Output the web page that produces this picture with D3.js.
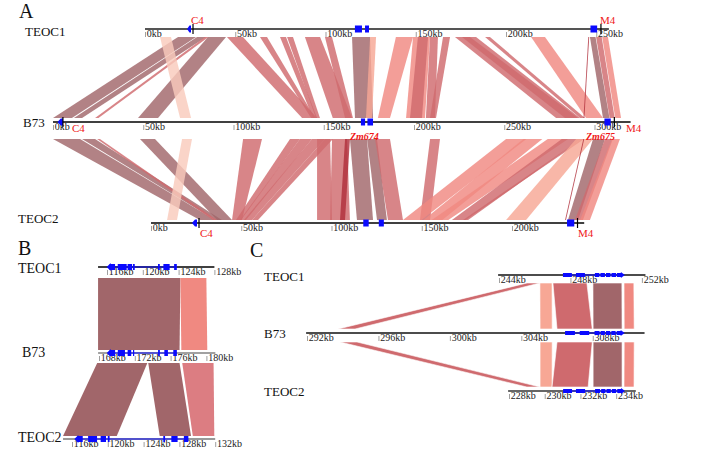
<!DOCTYPE html>
<html><head><meta charset="utf-8">
<script src="https://cdn.jsdelivr.net/npm/d3@7"></script>
<style>body{margin:0;background:#fff}svg{display:block}</style>
</head><body><svg id="c" width="726" height="459"></svg>
<script>
// ================= DATA =================
const trackNames = ["TEOC1", "B73", "TEOC2"];
const panelLetters = ["A", "B", "C"];

// ---- Panel A (kb) ----
const aLengths = [257, 320, 240];
const aTicksTEOC1 = [0, 50, 100, 150, 200, 250];
const aTicksB73 = [0, 50, 100, 150, 200, 250, 300];
const aTicksTEOC2 = [0, 50, 100, 150, 200];
// [upperStart, upperEnd, lowerStart, lowerEnd, colourIndex]
const aRibbonsTop = [
  [18.3, 28.3, 0, 10.5, 0], [28.8, 33.8, 11.6, 16.1, 0], [33.2, 35.2, 23.3, 25.2, 1],
  [34.9, 44.9, 47.1, 58.2, 0], [8.3, 14.4, 70.4, 76.5, 4],
  [45.4, 54.3, 138, 146.3, 1], [63.7, 67.6, 143, 145.2, 1], [74.8, 78.1, 144, 146.3, 1],
  [78.7, 82, 145.7, 147.9, 1], [88.6, 97, 155, 165.7, 1], [99.7, 103.6, 161.8, 166.2, 1],
  [114.7, 124.7, 167.3, 177.3, 0], [124.7, 128, 173.4, 176.7, 3],
  [139, 148.5, 180, 186.7, 2], [148.5, 157.9, 195.6, 206.1, 2], [151.2, 156.8, 197.8, 204.4, 1],
  [157.9, 162.3, 206.6, 211.6, 1], [165.1, 169, 208.9, 212.2, 1],
  [171.7, 183.4, 278.7, 292, 1], [175.6, 180, 283.7, 290.9, 1], [188.4, 191.1, 292, 294.7, 1],
  [213.9, 221.6, 295.3, 304.7, 2], [245.6, 246.1, 293.9, 294.4, 5],
  [246.5, 249.6, 304.7, 308.3, 0], [249.9, 253, 308.4, 311.2, 1], [253.3, 256.5, 311.5, 314.7, 2]
];
const aRibbonsBottom = [
  [0, 15, 27.1, 35.5, 0], [16.1, 23.3, 35.5, 39.3, 0], [24.4, 26, 34.3, 36.6, 1],
  [48.2, 56.5, 36.6, 44.9, 0], [71.5, 77, 8.9, 14.4, 4],
  [105.3, 115.8, 44.9, 50.4, 1], [131.3, 136.8, 47.1, 49.9, 1], [136.8, 143.5, 49.3, 52.6, 1],
  [143.5, 150.7, 51.5, 56, 1], [150.7, 155.1, 56, 59.3, 1],
  [146.3, 153.5, 92, 100.3, 1], [154.6, 162.9, 99.2, 110.2, 1], [161.8, 164.5, 104.7, 107.5, 5],
  [164.5, 174, 114.1, 123, 0], [174, 179.5, 125.2, 130.7, 0], [178.4, 186.7, 131.3, 139.6, 1],
  [208.9, 214.4, 149, 154.6, 1],
  [251, 262.3, 139.6, 149.8, 2], [260.7, 271.1, 151, 161.4, 2], [274.1, 285.4, 155.6, 164.7, 2],
  [281.9, 292.6, 166.7, 175.7, 1], [292.5, 294.3, 172.9, 174.3, 1], [289.8, 299.2, 196.7, 207.8, 3],
  [293.8, 294.3, 229.4, 229.9, 5],
  [299.2, 305.8, 231, 236.6, 0], [305.8, 310.2, 234.9, 239.3, 1], [309.7, 314.1, 237.7, 243.2, 2]
];
// genes: [start, end, direction(-1 left arrow, 0 box)]
const aGenesTEOC1 = [[23.3, 25.5, -1], [116.3, 120.2, 0], [121.9, 124.1, 0], [246.8, 250.5, 0]];
const aGenesB73 = [[2.5, 5.5, -1], [170.6, 172.9, 0], [174.2, 177.3, 0], [305.5, 309, 0]];
const aGenesTEOC2 = [[22.7, 25.5, -1], [117.6, 120.6, 0], [126.2, 129, 0], [230.5, 234.5, 0]];
const aMarksTEOC1 = [26.6, 252.6];
const aMarksB73 = [5.5, 311];
const aMarksTEOC2 = [26.6, 236.3];
// [text, kb position]
const aLabelsTEOC1 = [["C4", 25.5], ["M4", 252.1]];
const aLabelsB73 = [["C4", 10.5], ["M4", 317.5]];
const aLabelsB73Genes = [["Zm674", 164.5], ["Zm675", 295.3]];
const aLabelsTEOC2 = [["C4", 27.1], ["M4", 236.6]];

// ---- Panel B (kb) ----
const bDomains = [[115, 128], [167.9, 181], [115, 132]];
const bTicksTEOC1 = [116, 120, 124, 128];
const bTicksB73 = [168, 172, 176, 180];
const bTicksTEOC2 = [116, 120, 124, 128, 132];
const bRibbonsTop = [[115, 124.2, 167.9, 177, 0], [124.2, 127.1, 177.2, 180.1, 2]];
const bRibbonsBottom = [[167.8, 173.4, 115, 121, 0], [173.5, 177, 125.8, 129.3, 0], [177.3, 180.8, 129.5, 131.9, 6]];
const bExonsTEOC1 = [[116.3, 116.9], [117.2, 118.2], [118.3, 118.8], [118.9, 119.1], [121.7, 121.9], [122.3, 123], [123.5, 123.8]];
const bExonsB73 = [[169.2, 169.8], [170.1, 170.9], [171.2, 171.6], [171.8, 171.9], [174.6, 174.8], [175.3, 175.7], [176.3, 176.7]];
const bExonsTEOC2 = [[116.6, 117.2], [117.8, 118.8], [119.2, 119.8], [120, 120.2], [126.2, 126.4], [127.1, 127.8], [128.5, 129]];

// ---- Panel C (kb) ----
const cDomains = [[243.95, 252.2], [291.95, 310.9], [227.95, 235.1]];
const cTicksTEOC1 = [244, 248, 252];
const cTicksB73 = [292, 296, 300, 304, 308];
const cTicksTEOC2 = [228, 230, 232, 234];
const cRibbonsTop = [
  [245.57, 246.29, 293.74, 294.69, 1], [246.29, 246.97, 305.05, 305.73, 3],
  [247.02, 248.92, 306.0, 307.97, 1], [249.26, 250.88, 308.02, 309.64, 0], [251.0, 251.55, 309.76, 310.32, 2]
];
const cRibbonsBottom = [
  [293.85, 294.8, 229.0, 229.74, 1], [305.05, 305.73, 229.74, 230.41, 3],
  [306.0, 307.97, 230.41, 232.43, 1], [308.02, 309.64, 232.71, 234.33, 0], [309.76, 310.32, 234.44, 235.0, 2]
];
const cExonsTEOC1 = [[247.58, 248.08], [248.31, 248.81], [249.37, 249.62], [249.68, 249.93], [249.99, 250.24], [250.3, 250.55], [250.6, 250.88]];
const cExonsB73 = [[306.45, 307.0], [307.27, 307.8], [308.1, 308.38], [308.44, 308.68], [308.74, 308.98], [309.04, 309.28], [309.34, 309.62]];
const cExonsTEOC2 = [[231.03, 231.53], [231.75, 232.26], [232.82, 233.1], [233.16, 233.4], [233.46, 233.7], [233.76, 234.0], [234.06, 234.33]];

// ================= STYLE =================
const palette = ["#a1666a", "#cf6a6e", "#f08981", "#f7a795", "#f9cabc", "#b0303c", "#dc7d82"];
const serif = "'Liberation Serif','Times New Roman',serif";
const blue = "#0a0aff";
const red = "#f01818";

const svg = d3.select("#c").attr("font-family", serif);

function ribbons(g, list, sTop, yTop, sBot, yBot, opacity, stroke) {
  g.append("g").selectAll("path").data(list).enter().append("path")
    .attr("d", d => `M${sTop(d[0])},${yTop}L${sTop(d[1])},${yTop}L${sBot(d[3])},${yBot}L${sBot(d[2])},${yBot}Z`)
    .attr("fill", d => palette[d[4]])
    .attr("fill-opacity", opacity)
    .attr("stroke", stroke || "none")
    .attr("stroke-width", stroke ? 0.6 : 0);
}

function axis(g, s, y, ticks, color, width, fs) {
  const [a, b] = s.range();
  g.append("line").attr("x1", a).attr("x2", b).attr("y1", y).attr("y2", y)
    .attr("stroke", color).attr("stroke-width", width);
  const ax = g.append("g").attr("transform", `translate(0,${y})`)
    .call(d3.axisBottom(s).tickValues(ticks).tickSize(0).tickFormat(d => d + "kb"));
  ax.select(".domain").remove();
  ax.attr("font-family", serif).attr("font-size", fs);
  ax.selectAll(".tick line").attr("y1", 3).attr("y2", 8).attr("stroke", "#777").attr("stroke-width", 0.7);
  ax.selectAll(".tick text").attr("text-anchor", "start").attr("x", 1.3).attr("y", 8).attr("dy", "0").attr("fill", "#222");
}

function geneBoxes(g, s, y, genes, h) {
  genes.forEach(d => {
    const x0 = s(d[0]), x1 = s(d[1]);
    if (d[2] === -1) {
      const t = Math.min(4, (x1 - x0) * 0.6);
      g.append("path").attr("d", `M${x0},${y}L${x0 + t},${y - h / 2}L${x1},${y - h / 2}L${x1},${y + h / 2}L${x0 + t},${y + h / 2}Z`).attr("fill", blue);
    } else {
      g.append("rect").attr("x", x0).attr("y", y - h / 2).attr("width", x1 - x0).attr("height", h).attr("fill", blue);
    }
  });
}

function exons(g, s, y, list, h, dir) {
  g.append("line").attr("x1", s(list[0][0])).attr("x2", s(list[list.length - 1][1]))
    .attr("y1", y).attr("y2", y).attr("stroke", blue).attr("stroke-width", 1.2);
  g.append("g").selectAll("rect").data(list).enter().append("rect")
    .attr("x", d => s(d[0])).attr("y", y - h / 2)
    .attr("width", d => Math.max(1.2, s(d[1]) - s(d[0]))).attr("height", h).attr("fill", blue);
  if (dir === -1) {
    const x = s(list[0][0]);
    g.append("path").attr("d", `M${x - 3},${y}L${x + 1},${y - h / 2 - 1}L${x + 1},${y + h / 2 + 1}Z`).attr("fill", blue);
  } else if (dir === 1) {
    const x = s(list[list.length - 1][1]);
    g.append("path").attr("d", `M${x + 3},${y}L${x - 1},${y - h / 2 - 1}L${x - 1},${y + h / 2 + 1}Z`).attr("fill", blue);
  }
}

function marks(g, s, y, list) {
  g.append("g").selectAll("line").data(list).enter().append("line")
    .attr("x1", d => s(d)).attr("x2", d => s(d)).attr("y1", y - 5).attr("y2", y + 5)
    .attr("stroke", "#000").attr("stroke-width", 1.2);
}

function trackLabel(text, x, y, fs) {
  svg.append("text").attr("x", x).attr("y", y).attr("font-size", fs).attr("fill", "#111").text(text);
}

// ================= PANEL A =================
const gA = svg.append("g");
const kbPxA = 1.805;
const xA0 = [145, 53, 151];
const yA = [29, 122, 223];
const sA = aLengths.map((L, i) => d3.scaleLinear().domain([0, L]).range([xA0[i], xA0[i] + L * kbPxA]));

ribbons(gA, aRibbonsTop, sA[0], 37, sA[1], 118, 0.82);
ribbons(gA, aRibbonsBottom, sA[1], 139, sA[2], 220, 0.82);

axis(gA, sA[0], yA[0], aTicksTEOC1, "#555", 2, 10);
axis(gA, sA[1], yA[1], aTicksB73, "#000", 1.6, 10);
axis(gA, sA[2], yA[2], aTicksTEOC2, "#000", 1.6, 10);

geneBoxes(gA, sA[0], yA[0], aGenesTEOC1, 7);
geneBoxes(gA, sA[1], yA[1], aGenesB73, 7);
geneBoxes(gA, sA[2], yA[2], aGenesTEOC2, 7);
marks(gA, sA[0], yA[0], aMarksTEOC1);
marks(gA, sA[1], yA[1], aMarksB73);
marks(gA, sA[2], yA[2], aMarksTEOC2);

aLabelsTEOC1.forEach(d => gA.append("text").attr("x", sA[0](d[1])).attr("y", 24).attr("font-size", 11).attr("fill", red).text(d[0]));
aLabelsB73.forEach(d => gA.append("text").attr("x", sA[1](d[1])).attr("y", 132).attr("font-size", 11).attr("fill", red).text(d[0]));
aLabelsB73Genes.forEach(d => gA.append("text").attr("x", sA[1](d[1])).attr("y", 140).attr("font-size", 10).attr("font-style", "italic").attr("font-weight", "bold").attr("fill", red).text(d[0]));
aLabelsTEOC2.forEach(d => gA.append("text").attr("x", sA[2](d[1])).attr("y", 237).attr("font-size", 11).attr("fill", red).text(d[0]));

trackLabel(panelLetters[0], 19, 18, 20);
trackLabel(trackNames[0], 25, 36, 13);
trackLabel(trackNames[1], 23, 127, 13);
trackLabel(trackNames[2], 18, 223, 13);

// ================= PANEL B =================
const gB = svg.append("g");
const kbPxB = 8.95;
const bRef = [[116, 107], [168, 99], [116, 72]];
const yB = [267, 353, 439];
const sB = bDomains.map((dm, i) => d3.scaleLinear().domain(dm).range(dm.map(v => bRef[i][1] + (v - bRef[i][0]) * kbPxB)));

ribbons(gB, bRibbonsTop, sB[0], 278, sB[1], 350, 1);
ribbons(gB, bRibbonsBottom, sB[1], 363, sB[2], 436, 1);
axis(gB, sB[0], yB[0], bTicksTEOC1, "#000", 1.6, 10);
axis(gB, sB[1], yB[1], bTicksB73, "#444", 1.2, 10);
axis(gB, sB[2], yB[2], bTicksTEOC2, "#999", 2, 10);
exons(gB, sB[0], yB[0], bExonsTEOC1, 6, -1);
exons(gB, sB[1], yB[1], bExonsB73, 6, -1);
exons(gB, sB[2], yB[2], bExonsTEOC2, 6, -1);

trackLabel(panelLetters[1], 18, 255, 20);
trackLabel(trackNames[0], 18, 273, 14);
trackLabel(trackNames[1], 22, 357, 14);
trackLabel(trackNames[2], 18, 442, 14);

// ================= PANEL C =================
const gC = svg.append("g");
const kbPxC = 17.86;
const cRef = [[244, 499], [292, 307], [228, 509]];
const yC = [275, 333, 391];
const sC = cDomains.map((dm, i) => d3.scaleLinear().domain(dm).range(dm.map(v => cRef[i][1] + (v - cRef[i][0]) * kbPxC)));

ribbons(gC, cRibbonsTop, sC[0], 283, sC[1], 329, 1, "#fff");
ribbons(gC, cRibbonsBottom, sC[1], 342, sC[2], 387, 1, "#fff");
axis(gC, sC[0], yC[0], cTicksTEOC1, "#111", 1.3, 10);
axis(gC, sC[1], yC[1], cTicksB73, "#111", 1.3, 10);
axis(gC, sC[2], yC[2], cTicksTEOC2, "#333", 1.3, 10);
exons(gC, sC[0], yC[0], cExonsTEOC1, 4, 1);
exons(gC, sC[1], yC[1], cExonsB73, 4, 1);
exons(gC, sC[2], yC[2], cExonsTEOC2, 4, 1);

trackLabel(panelLetters[2], 250, 257, 20);
trackLabel(trackNames[0], 264, 281, 13);
trackLabel(trackNames[1], 264, 338, 13);
trackLabel(trackNames[2], 264, 396, 13);
</script>
</body></html>
